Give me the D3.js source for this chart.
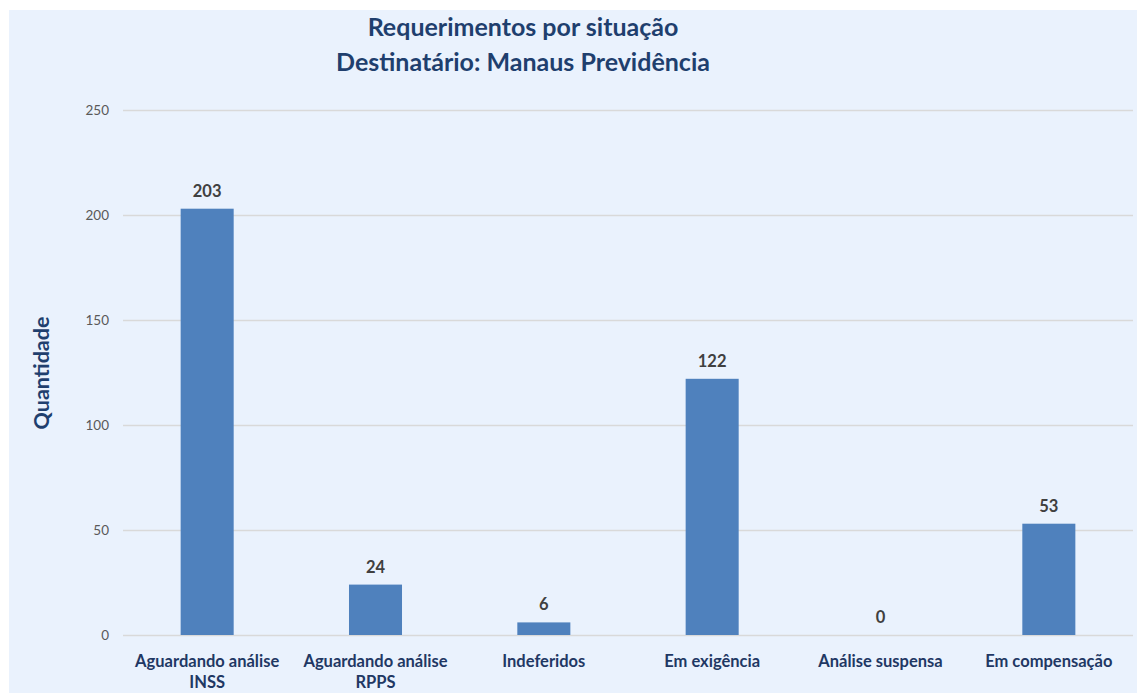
<!DOCTYPE html>
<html>
<head>
<meta charset="utf-8">
<script src="https://cdn.jsdelivr.net/npm/d3@7"></script>
<style>
  body { margin: 0; background: #fff; }
  text { font-family: Lato, "Open Sans", sans-serif; }
</style>
</head>
<body>
<svg id="chart" width="1137" height="693"></svg>
<script>
const categories = [
  ["Aguardando análise", "INSS"],
  ["Aguardando análise", "RPPS"],
  ["Indeferidos"],
  ["Em exigência"],
  ["Análise suspensa"],
  ["Em compensação"]
];
const values = [203, 24, 6, 122, 0, 53];
const yTicks = [0, 50, 100, 150, 200, 250];
const titleLines = ["Requerimentos por situação", "Destinatário: Manaus Previdência"];
const yLabel = "Quantidade";

const width = 1137, height = 693;
const margin = { top: 110, right: 4, bottom: 58, left: 123 };

const svg = d3.select("#chart");

// fundo azul claro
svg.append("rect")
  .attr("x", 9).attr("y", 10)
  .attr("width", width - 9).attr("height", height - 10)
  .attr("fill", "#eaf2fd");

const x = d3.scaleBand()
  .domain(categories.map((d, i) => i))
  .range([margin.left, width - margin.right])
  .paddingInner(0.685)
  .paddingOuter(0.3425);

const y = d3.scaleLinear()
  .domain([0, 250])
  .range([height - margin.bottom, margin.top]);

// grade
const yAxis = svg.append("g")
  .attr("transform", `translate(${margin.left},0)`)
  .call(d3.axisLeft(y).tickValues(yTicks).tickSize(-(width - margin.left - margin.right)).tickPadding(14));
yAxis.select(".domain").remove();
yAxis.selectAll(".tick line").attr("stroke", "#d9d9d9").attr("stroke-width", 1.5);
yAxis.selectAll(".tick text")
  .attr("fill", "#595959")
  .style("font-size", "13.5px");

// barras
svg.append("g").selectAll("rect")
  .data(values)
  .join("rect")
  .attr("x", (d, i) => x(i))
  .attr("y", d => y(d))
  .attr("width", x.bandwidth())
  .attr("height", d => y(0) - y(d))
  .attr("fill", "#4f81bd");

// rótulos de valor
svg.append("g").selectAll("text")
  .data(values)
  .join("text")
  .attr("x", (d, i) => x(i) + x.bandwidth() / 2)
  .attr("y", d => y(d) - 12)
  .attr("text-anchor", "middle")
  .attr("fill", "#404040")
  .style("font-size", "16.5px")
  .style("font-weight", "bold")
  .text(d => d);

// categorias
const catText = svg.append("g").selectAll("text")
  .data(categories)
  .join("text")
  .attr("x", (d, i) => x(i) + x.bandwidth() / 2)
  .attr("y", 667)
  .attr("text-anchor", "middle")
  .attr("fill", "#1f3864")
  .style("font-size", "16.5px")
  .style("font-weight", "bold");
catText.selectAll("tspan")
  .data(d => d)
  .join("tspan")
  .attr("x", function() { return this.parentNode.getAttribute("x"); })
  .attr("dy", (d, i) => i === 0 ? 0 : 21)
  .text(d => d);

// título
svg.append("g").selectAll("text")
  .data(titleLines)
  .join("text")
  .attr("x", 523)
  .attr("y", (d, i) => 36 + i * 35)
  .attr("text-anchor", "middle")
  .attr("fill", "#1f3f6e")
  .style("font-size", "25px")
  .style("font-weight", "bold")
  .text(d => d);

// eixo y título
svg.append("text")
  .attr("transform", `translate(49,373) rotate(-90)`)
  .attr("text-anchor", "middle")
  .attr("fill", "#1f3f6e")
  .style("font-size", "21.5px")
  .style("font-weight", "bold")
  .text(yLabel);
</script>
</body>
</html>
